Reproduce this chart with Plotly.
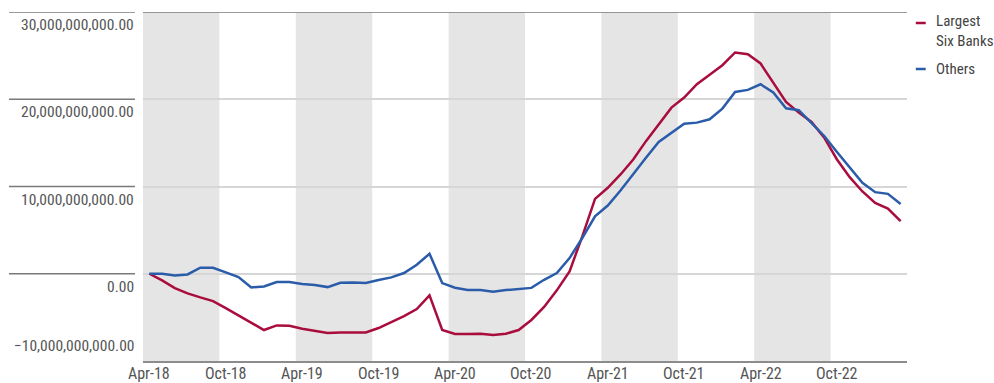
import pandas as pd
import plotly.graph_objects as go

# Monthly categories, Apr 2018 through Mar 2023
months = list(pd.date_range("2018-04-01", periods=60, freq="MS").strftime("%b-%y"))

# Cumulative change in deposits, billions of dollars
largest_six = [
    0.00, -0.76, -1.64, -2.25, -2.71, -3.13, -3.93, -4.77, -5.57, -6.45,
    -5.92, -5.96, -6.30, -6.53, -6.80, -6.74, -6.76, -6.72, -6.22, -5.57,
    -4.85, -4.05, -2.48, -6.45, -6.91, -6.91, -6.87, -7.03, -6.87, -6.45,
    -5.30, -3.80, -1.90, 0.27, 4.29, 8.58, 9.85, 11.38, 13.10, 15.20,
    17.13, 19.04, 20.19, 21.72, 22.80, 23.90, 25.36, 25.17, 24.10, 21.92,
    19.69, 18.47, 17.40, 15.60, 13.10, 11.07, 9.43, 8.12, 7.47, 6.02,
]
others = [
    0.00, 0.00, -0.19, -0.08, 0.69, 0.69, 0.15, -0.38, -1.57, -1.45,
    -0.95, -0.95, -1.18, -1.30, -1.53, -1.03, -0.99, -1.07, -0.72, -0.42,
    0.08, 1.03, 2.29, -1.07, -1.60, -1.87, -1.87, -2.06, -1.87, -1.76,
    -1.62, -0.69, 0.08, 1.80, 4.10, 6.59, 7.82, 9.54, 11.46, 13.30,
    15.10, 16.17, 17.20, 17.32, 17.70, 18.93, 20.84, 21.07, 21.72, 20.77,
    18.97, 18.74, 17.32, 15.79, 13.95, 12.15, 10.42, 9.35, 9.16, 8.00,
]

x_ticks = ["Apr-18", "Oct-18", "Apr-19", "Oct-19", "Apr-20", "Oct-20",
           "Apr-21", "Oct-21", "Apr-22", "Oct-22"]
y_ticks = [-10e9, 0, 10e9, 20e9, 30e9]
y_labels = ["\u221210,000,000,000.00", "0.00", "10,000,000,000.00",
            "20,000,000,000.00", "30,000,000,000.00"]

RED = "#A90D3D"
BLUE = "#2A5CAA"
FONT = "Roboto Condensed, Liberation Sans Narrow, Roboto, sans-serif"
TXT = "#555555"

fig = go.Figure()
fig.add_trace(go.Scatter(x=months, y=[v * 1e9 for v in largest_six], mode="lines",
                         line=dict(color=RED, width=2.5), name="Largest Six Banks"))
fig.add_trace(go.Scatter(x=months, y=[v * 1e9 for v in others], mode="lines",
                         line=dict(color=BLUE, width=2.5), name="Others"))

shapes = []
# Alternating half-year bands (Apr-Sep shaded)
for start in range(0, 60, 12):
    shapes.append(dict(type="rect", xref="x", yref="paper", x0=start - 0.5, x1=start + 5.5,
                       y0=0, y1=1, fillcolor="#E5E5E5", line=dict(width=0), layer="below"))
# Top border line across the plot
shapes.append(dict(type="line", xref="paper", yref="y", x0=0, x1=1, y0=30e9, y1=30e9,
                   line=dict(color="#7A7A7A", width=1.5)))
# Tick rules in the label gutter
for v in y_ticks[1:]:
    shapes.append(dict(type="line", xref="paper", yref="y", x0=-0.1754, x1=-0.0105,
                       y0=v, y1=v, line=dict(color="#7A7A7A", width=1.5)))

annotations = []
for v, lab in zip(y_ticks, y_labels):
    bottom = v == y_ticks[0]
    annotations.append(dict(xref="paper", yref="y", x=-0.0105, y=v, text=lab,
                            showarrow=False, xanchor="right",
                            yanchor="bottom" if bottom else "top",
                            yshift=4 if bottom else -2, xshift=1,
                            font=dict(family=FONT, size=15.5, color=TXT)))

# Date labels under the axis
for lab in x_ticks:
    annotations.append(dict(xref="x", yref="paper", x=lab, y=0, text=lab,
                            showarrow=False, xanchor="center", yanchor="top", yshift=-1,
                            font=dict(family=FONT, size=16, color=TXT)))

# Legend drawn beside the plot
lx0, lx1, ltx = 1.0115, 1.0245, 1.035
shapes.append(dict(type="line", xref="paper", yref="paper", x0=lx0, x1=lx1,
                   y0=1 - 11 / 349, y1=1 - 11 / 349, line=dict(color=RED, width=2.5)))
shapes.append(dict(type="line", xref="paper", yref="paper", x0=lx0, x1=lx1,
                   y0=1 - 57 / 349, y1=1 - 57 / 349, line=dict(color=BLUE, width=2.5)))
annotations.append(dict(xref="paper", yref="paper", x=ltx, y=1 - 18.5 / 349,
                        text="Largest<br>Six Banks", showarrow=False, xanchor="left",
                        yanchor="middle", align="left",
                        font=dict(family=FONT, size=15, color="#444444")))
annotations.append(dict(xref="paper", yref="paper", x=ltx, y=1 - 56.5 / 349,
                        text="Others", showarrow=False, xanchor="left", yanchor="middle",
                        align="left", font=dict(family=FONT, size=15, color="#444444")))

fig.update_layout(
    width=994, height=383,
    margin=dict(l=143, r=87, t=12, b=22, autoexpand=False),
    paper_bgcolor="white", plot_bgcolor="rgba(0,0,0,0)",
    showlegend=False,
    shapes=shapes, annotations=annotations,
    font=dict(family=FONT, size=16, color=TXT),
)
fig.update_xaxes(type="category", range=[-0.5, 59.5], showticklabels=False,
                 showgrid=False, showline=True, linecolor="#8C8C8C",
                 linewidth=2, ticks="", automargin=False, fixedrange=True)
fig.update_yaxes(range=[-10e9, 30e9], tickvals=y_ticks, showticklabels=False,
                 showgrid=True, gridcolor="#D6D6D6", gridwidth=1.5, zeroline=False,
                 showline=False, ticks="", automargin=False, fixedrange=True)

fig.write_html("out.html")
